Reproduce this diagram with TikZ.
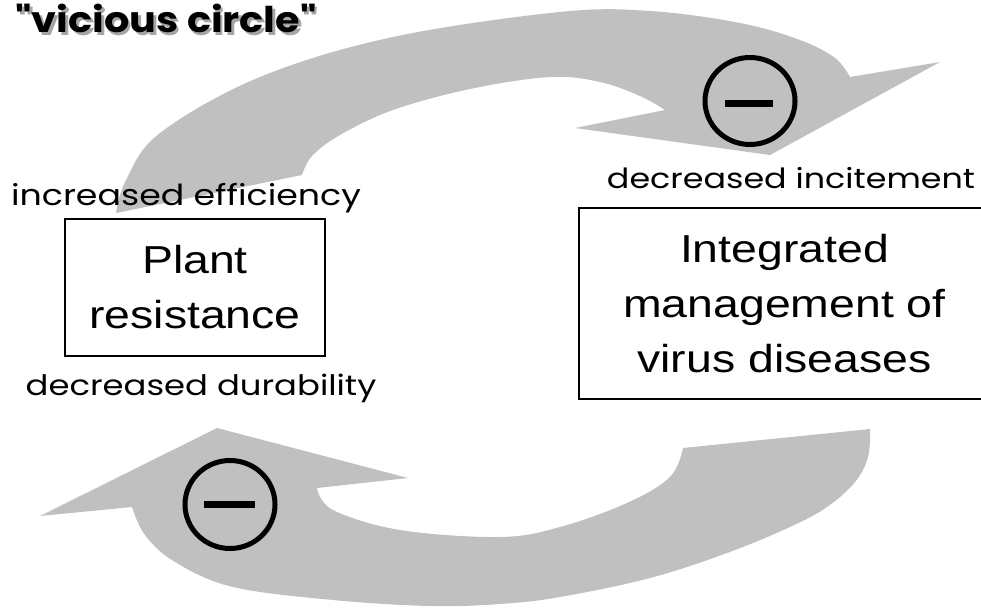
\documentclass[tikz,border=0pt]{standalone}
\usepackage{fontspec}
\setmainfont{Liberation Sans}
\newfontfamily\boxfont[FakeStretch=1.19]{Liberation Sans}
\newfontfamily\comicfont[FakeStretch=1.2]{Poppins}
\newfontfamily\comictitle[FakeStretch=1.12]{Poppins}
\usetikzlibrary{shapes.geometric}
\definecolor{arrowgray}{RGB}{192,192,192}
\definecolor{shadowgray}{RGB}{165,165,165}
\newcommand{\shadowtext}[1]{\makebox[0pt][l]{\hspace{2.5pt}\raisebox{-2.5pt}{\color{shadowgray}#1}}#1}
\begin{document}
\begin{tikzpicture}[x=1pt,y=-1pt,
  bigarrow/.style={fill=arrowgray},
  boxnode/.style={draw=black,line width=1.3pt,inner sep=0pt,align=center,
    font=\boxfont\fontsize{39}{55}\selectfont},
  labelnode/.style={anchor=base,inner sep=0pt,font=\comicfont\fontsize{#1}{32}\selectfont},
  labelnode/.default=29,
  titlenode/.style={anchor=base,inner sep=0pt,font=\comictitle\bfseries\fontsize{35.5}{38}\selectfont},
  minusring/.style={draw=black,line width=5pt,ellipse,inner sep=0pt},
  minusbar/.style={line width=6.5pt}
]
\useasboundingbox (0,0) rectangle (981,607);
\clip (0,0) rectangle (981,607);
\fill[white] (0,0) rectangle (981,607);

% upper curved arrow
\fill[bigarrow] plot[smooth,tension=0.6] coordinates {(116,213) (126,180) (160,133) (260,77) (393,37) (560,12) (650,11) (740,23) (800,40) (835,58) (850,77)}
  -- (940,62) -- (770,155) -- (575,128)
  -- plot[smooth,tension=0.6] coordinates {(665,110) (640,96) (600,82) (550,77) (470,89) (393,110) (340,135) (312,156) (302,175)}
  -- cycle;

% lower curved arrow
\fill[bigarrow] (217,428) -- (408,478)
  -- plot[smooth,tension=0.6] coordinates {(317,488) (333,510) (400,530) (500,537) (560,527) (627,503) (670,477) (683,448)}
  -- plot[smooth,tension=0.6] coordinates {(870,429) (868,457) (855,482) (827,507) (790,527) (727,553) (650,578) (560,597) (500,604) (430,606) (333,600) (233,587) (175,562) (145,535) (132,507)}
  -- (40,516) -- cycle;

% minus signs
\node[minusring,minimum width=90pt,minimum height=87pt] (negtop) at (750,101) {};
\draw[minusbar] ([xshift=-25pt,yshift=-2.5pt]negtop.center) -- ([xshift=23pt,yshift=-2.5pt]negtop.center);
\node[minusring,minimum width=90pt,minimum height=88pt] (negbot) at (230,504.5) {};
\draw[minusbar] ([xshift=-26pt]negbot.center) -- ([xshift=25pt]negbot.center);

% boxes
\node[boxnode,minimum width=260pt,minimum height=137pt] (plant) at (195,287.5) {Plant\\resistance};
\node[boxnode,minimum width=411pt,minimum height=191pt] (ipm) at (784.5,303.5) {Integrated\\management of\\virus diseases};

% labels
\node[labelnode=29] (eff) at (186,205) {increased efficiency};
\node[labelnode=27.8] (inc) at (791,188) {decreased incitement};
\node[labelnode=28.2] (dur) at (201,395) {decreased durability};

% title with shadow
\node[titlenode] (title) at (166,33) {\shadowtext{"vicious circle"}};
\end{tikzpicture}
\end{document}
